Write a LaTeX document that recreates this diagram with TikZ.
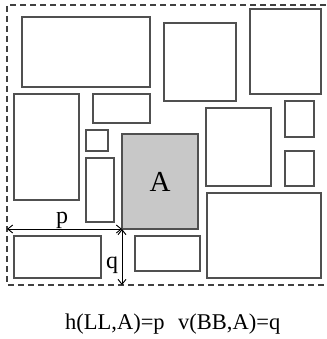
\documentclass[tikz,border=0pt]{standalone}
\usepackage{fontspec}
\setmainfont{Liberation Serif}
\usetikzlibrary{fit,arrows.meta}
\definecolor{edge}{HTML}{505050}
\definecolor{shade}{HTML}{C8C8C8}
\tikzset{
  box/.style={draw=edge, line width=1.1pt, inner sep=0pt, outer sep=0pt},
  framedash/.style={draw=edge!80!black, line width=1.1pt, dash pattern=on 6pt off 4pt},
  dimarrow/.style={draw=black, line width=0.9pt, {Straight Barb[length=5pt,width=8pt]}-{Straight Barb[length=5pt,width=8pt]}},
  lbl/.style={font=\fontsize{24}{26}\selectfont, inner sep=1pt},
  caption/.style={anchor=base west, inner sep=0pt, font=\fontsize{22.5}{24}\selectfont}
}
\begin{document}
\begin{tikzpicture}[x=1pt,y=-1pt]
\useasboundingbox (0,0) rectangle (326,339);
\clip (0,0) rectangle (326,339);
\draw[framedash] (326,5) -- (7,5) -- (7,285) -- (326,285);
\node[box, fit={(22,17) (150,87)}] (r1) {};
\node[box, fit={(14,94) (79,200)}] (r2) {};
\node[box, fit={(93,94) (150,123)}] (r3) {};
\node[box, fit={(86,130) (108,151)}] (r4) {};
\node[box, fit={(86,158) (114,222)}] (r5) {};
\node[box, fill=shade, fit={(122,134) (198,229)}] (A) {};
\node[font=\fontsize{29}{30}\selectfont] (Alabel) at (A.center) {A};
\node[box, fit={(164,23) (236,101)}] (r6) {};
\node[box, fit={(250,9) (321,94)}] (r7) {};
\node[box, fit={(206,108) (271,186)}] (r8) {};
\node[box, fit={(285,101) (314,137)}] (r9) {};
\node[box, fit={(285,151) (314,186)}] (r10) {};
\node[box, fit={(207,193) (321,278)}] (r11) {};
\node[box, fit={(135,236) (200,271)}] (r12) {};
\node[box, fit={(14,236) (101,278)}] (r13) {};
\coordinate (fl) at (7,229);
\coordinate (fb) at (122,285);
\draw[dimarrow] (fl) -- (A.south west);
\draw[dimarrow] (A.south west) -- (fb);
\node[lbl, anchor=base] (p) at (62,223) {p};
\node[lbl, anchor=base] (q) at (112,268) {q};
\node[caption] (t1) at (65,329) {h(LL,A)=p};
\node[caption] (t2) at (178,329) {v(BB,A)=q};
\end{tikzpicture}
\end{document}
